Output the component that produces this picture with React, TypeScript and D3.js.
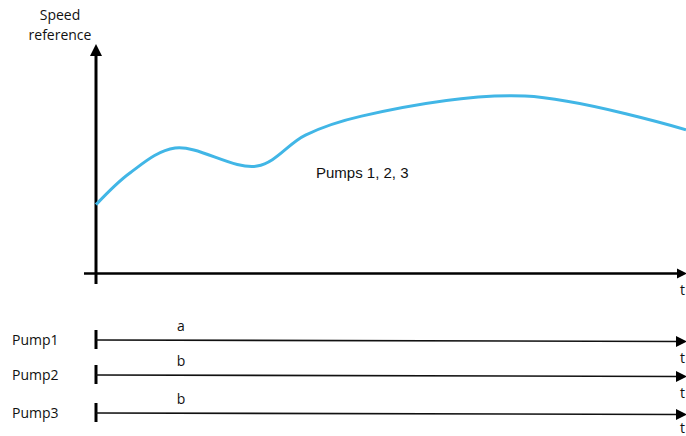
import React from "react";
import * as d3 from "d3";

const timeValues = [0, 5.8, 13.4, 27.3, 35.5, 45, 72.7, 100];
const speedValues = [30, 44, 54.8, 46.9, 60.5, 68.8, 77.6, 62.8];
const pumpNames = ["Pump1", "Pump2", "Pump3"];
const pumpStages = ["a", "b", "b"];
const curveLabel = "Pumps 1, 2, 3";
const yAxisLabel = ["Speed", "reference"];
const timeLabel = "t";

const W = 686;
const H = 436;

export default function App() {
  const x = d3.scaleLinear().domain([0, 100]).range([96, 686]);
  const y = d3.scaleLinear().domain([0, 100]).range([273, 45]);
  const data = timeValues.map((t, i) => [t, speedValues[i]] as [number, number]);
  const line = d3
    .line<[number, number]>()
    .x((d) => x(d[0]))
    .y((d) => y(d[1]))
    .curve(d3.curveCatmullRom.alpha(0.5));

  const pumpYs = [340, 375, 413];

  const arrowRight = (tipX: number, cy: number, len = 10, half = 5) =>
    `M${tipX},${cy} L${tipX - len},${cy - half} L${tipX - len},${cy + half} Z`;

  return (
    <svg
      width={W}
      height={H}
      style={{ position: "absolute", left: 0, top: 0, background: "#fff" }}
      fontFamily="'Open Sans', sans-serif"
    >
      <text x={60} y={20} textAnchor="middle" fontSize={14} fill="#111">
        {yAxisLabel[0]}
      </text>
      <text x={60} y={40} textAnchor="middle" fontSize={14} fill="#111">
        {yAxisLabel[1]}
      </text>
      <line x1={96} x2={96} y1={55} y2={284} stroke="#000" strokeWidth={3} />
      <path d={`M96,44 L90,56 L102,56 Z`} fill="#000" />
      <line x1={84} x2={678} y1={273.5} y2={273.5} stroke="#000" strokeWidth={2.5} />
      <path d={arrowRight(687, 273.5, 10, 5)} fill="#000" />
      <text x={680} y={295} fontSize={14} fill="#111">
        {timeLabel}
      </text>

      <path d={line(data) || ""} fill="none" stroke="#41b6e6" strokeWidth={3} />
      <text x={316} y={178} fontSize={15} fontFamily="'Liberation Sans', Arial, sans-serif" fill="#111">
        {curveLabel}
      </text>

      {pumpNames.map((p, i) => {
        const cy = pumpYs[i];
        return (
          <g key={p}>
            <text x={12} y={cy + 5} fontSize={14} fill="#111">
              {p}
            </text>
            <line x1={96} x2={96} y1={cy - 10} y2={cy + 9} stroke="#000" strokeWidth={3} />
            <line x1={96} x2={678} y1={cy} y2={cy + 1.5} stroke="#111" strokeWidth={1.6} />
            <path d={arrowRight(687, cy + 1.5, 11, 5.5)} fill="#000" />
            <text x={181} y={cy - 9} textAnchor="middle" fontSize={14} fill="#111">
              {pumpStages[i]}
            </text>
            <text x={680} y={Math.min(cy + 23, 433)} fontSize={14} fill="#111">
              {timeLabel}
            </text>
          </g>
        );
      })}
    </svg>
  );
}
